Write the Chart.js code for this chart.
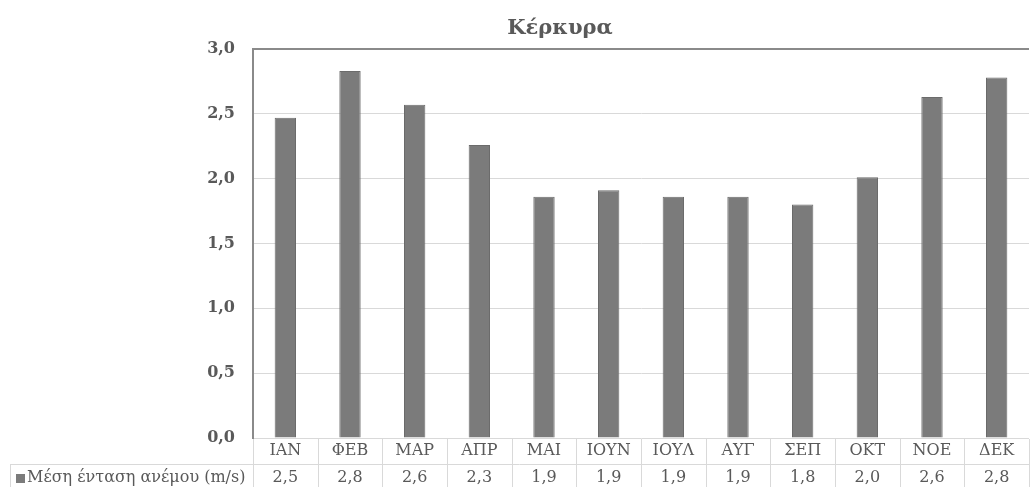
<!DOCTYPE html>
<html lang="el">
<head>
<meta charset="utf-8">
<title>Κέρκυρα</title>
<script src="https://cdn.jsdelivr.net/npm/chart.js@4/dist/chart.umd.min.js"></script>
<style>
  html, body { margin: 0; padding: 0; background: #fff; }
  #wrap { width: 1030px; height: 487px; }
</style>
</head>
<body>
<div id="wrap"><canvas id="chart" width="1030" height="487"></canvas></div>
<script>
// monthly mean wind speed, Corfu
const months = ['ΙΑΝ', 'ΦΕΒ', 'ΜΑΡ', 'ΑΠΡ', 'ΜΑΙ', 'ΙΟΥΝ', 'ΙΟΥΛ', 'ΑΥΓ', 'ΣΕΠ', 'ΟΚΤ', 'ΝΟΕ', 'ΔΕΚ'];
const windSpeed = [2.47, 2.83, 2.57, 2.26, 1.86, 1.91, 1.86, 1.86, 1.80, 2.01, 2.63, 2.78];
const seriesName = 'Μέση ένταση ανέμου (m/s)';
const chartTitle = 'Κέρκυρα';
const yTicks = [0, 0.5, 1, 1.5, 2, 2.5, 3];

const FONT = "'DejaVu Serif', 'Liberation Serif', serif";
const TEXT = '#595959';
const BAR = '#7b7b7b';
const TABLE_LINE = '#d9d9d9';

const fmt = (v) => v.toFixed(1).replace('.', ',');

// title + data table under the plot
const tablePlugin = {
  id: 'dataTable',
  afterDraw(chart) {
    const { ctx, chartArea, scales } = chart;
    const x = scales.x;
    const colW = (chartArea.right - chartArea.left) / months.length;
    const top = chartArea.bottom;
    const mid = top + 26;
    const bottom = chart.height;

    ctx.save();
    ctx.fillStyle = TEXT;
    ctx.font = `bold 21px ${FONT}`;
    ctx.textAlign = 'center';
    ctx.textBaseline = 'middle';
    ctx.fillText(chartTitle, 560, 29);

    ctx.strokeStyle = TABLE_LINE;
    ctx.lineWidth = 1;
    ctx.beginPath();
    ctx.moveTo(10, mid + 0.5);
    ctx.lineTo(chartArea.right, mid + 0.5);
    ctx.moveTo(10.5, mid);
    ctx.lineTo(10.5, bottom);
    for (let i = 0; i <= months.length; i++) {
      const lx = Math.round(chartArea.left + i * colW) + 0.5;
      ctx.moveTo(lx, top + 1);
      ctx.lineTo(lx, bottom);
    }
    ctx.stroke();

    ctx.font = `16px ${FONT}`;
    months.forEach((m, i) => {
      const cx = x.getPixelForValue(i);
      ctx.fillText(m, cx, top + 13);
      ctx.fillText(fmt(windSpeed[i]), cx, mid + 14);
    });

    ctx.fillStyle = BAR;
    ctx.fillRect(16, mid + 10, 9, 9);
    ctx.fillStyle = TEXT;
    ctx.textAlign = 'left';
    ctx.fillText(seriesName, 27, mid + 14);
    ctx.restore();
  }
};

new Chart(document.getElementById('chart'), {
  type: 'bar',
  data: {
    labels: months,
    datasets: [{
      label: seriesName,
      data: windSpeed,
      backgroundColor: BAR,
      borderColor: '#6b6b6b',
      borderWidth: 1,
      barPercentage: 0.33,
      categoryPercentage: 1
    }]
  },
  options: {
    responsive: false,
    animation: false,
    layout: { padding: { top: 49, right: 1, bottom: 49, left: 0 } },
    plugins: {
      legend: { display: false },
      title: { display: false },
      tooltip: { enabled: false }
    },
    scales: {
      x: {
        display: false,
        offset: true
      },
      y: {
        min: 0,
        max: 3,
        afterFit: (s) => { s.width = 253; },
        afterBuildTicks: (s) => { s.ticks = yTicks.map((v) => ({ value: v })); },
        border: { display: true, color: '#8a8a8a', width: 2 },
        grid: {
          drawTicks: false,
          color: (c) => (c.tick && c.tick.value === 3 ? '#8a8a8a' : TABLE_LINE),
          lineWidth: (c) => (c.tick && c.tick.value === 3 ? 2 : 1)
        },
        ticks: {
          padding: 18,
          color: TEXT,
          font: { family: FONT, size: 16, weight: 'bold' },
          callback: (v) => fmt(v)
        }
      }
    }
  },
  plugins: [tablePlugin]
});
</script>
</body>
</html>
